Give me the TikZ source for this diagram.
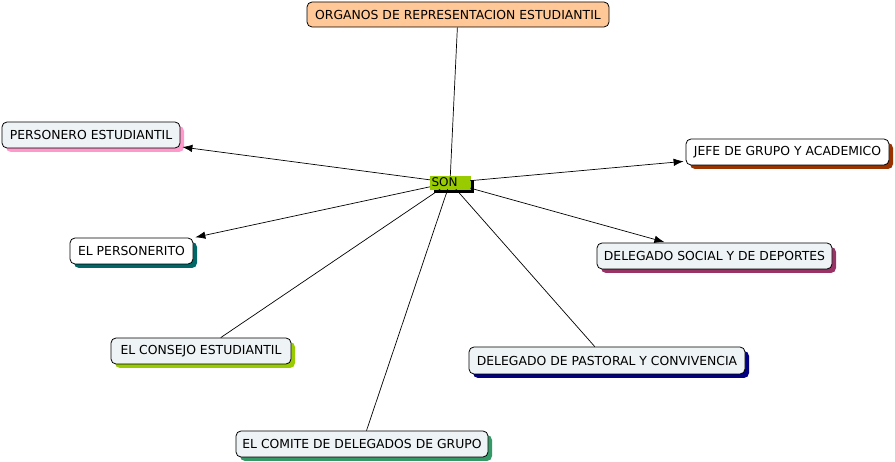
\documentclass[tikz,border=0pt]{standalone}
\usepackage{fontspec}
\setmainfont{DejaVu Sans}
\usepackage{xcolor}
\usetikzlibrary{arrows.meta, shadows}

\definecolor{boxfill}{HTML}{EEF3F5}
\definecolor{topfill}{HTML}{FFC896}
\definecolor{sonfill}{HTML}{99CC00}
\definecolor{shpink}{HTML}{FF99CC}
\definecolor{shbrown}{HTML}{993300}
\definecolor{shplum}{HTML}{993366}
\definecolor{shteal}{HTML}{006666}
\definecolor{shlime}{HTML}{99CC00}
\definecolor{shnavy}{HTML}{000080}
\definecolor{shgreen}{HTML}{339966}

\begin{document}
\begin{tikzpicture}[
  x=1pt, y=-1pt,
  concept/.style={rectangle, draw, line width=0.8pt, fill=boxfill,
                  rounded corners=5pt, minimum height=26pt, inner sep=2pt,
                  font=\fontsize{12.4}{14}\selectfont},
  shade/.style={drop shadow={shadow xshift=4pt, shadow yshift=-4pt,
                             fill=#1, opacity=1}},
  link/.style={line width=0.7pt},
  arrow/.style={link, -{Latex[length=10pt, width=7.5pt]}, shorten >=2pt},
]
\useasboundingbox (0,0) rectangle (895,462);

\node[concept, fill=topfill, minimum width=302pt, minimum height=25pt]
  at (458, 14.5) (organos) {ORGANOS DE REPRESENTACION ESTUDIANTIL};
\node[rectangle, fill=sonfill, draw=sonfill, inner sep=0pt, minimum width=40pt,
      minimum height=13pt, text width=37pt, align=left, shade=black,
      font=\fontsize{12}{13}\selectfont]
  at (450, 182.5) (son) {SON};

\node[concept, shade=shpink, minimum width=178pt]  at (91, 135)    (personero)   {PERSONERO ESTUDIANTIL};
\node[concept, shade=shbrown, fill=white, minimum width=203pt] at (787.5, 152) (jefe) {JEFE DE GRUPO Y ACADEMICO};
\node[concept, shade=shplum, minimum width=235pt]  at (714.5, 256) (social)      {DELEGADO SOCIAL Y DE DEPORTES};
\node[concept, shade=shteal, fill=white, minimum width=123pt] at (131.5, 251) (personerito) {EL PERSONERITO};
\node[concept, shade=shlime, minimum width=180pt]  at (201, 351)   (consejo)     {EL CONSEJO ESTUDIANTIL};
\node[concept, shade=shnavy, minimum width=276pt, minimum height=27pt] at (607, 360.5) (pastoral) {DELEGADO DE PASTORAL Y CONVIVENCIA};
\node[concept, shade=shgreen, minimum width=252pt] at (362, 444)   (comite)      {EL COMITE DE DELEGADOS DE GRUPO};

\draw[link] (organos) -- (son);
\draw[arrow] (son) -- (personero);
\draw[arrow] (son) -- (jefe);
\draw[arrow] (son) -- (social);
\draw[arrow] (son) -- (personerito);
\draw[link] (son) -- (consejo);
\draw[link] (son) -- (pastoral);
\draw[link] (son) -- (comite);
\end{tikzpicture}
\end{document}
